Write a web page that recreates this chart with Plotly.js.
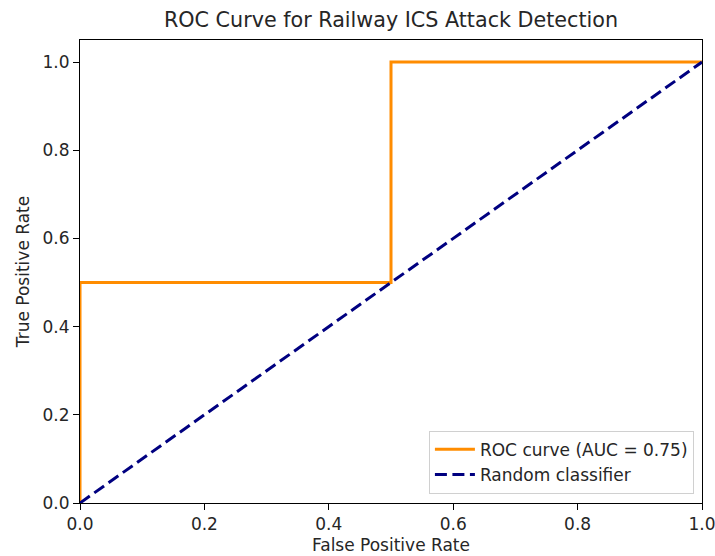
<!DOCTYPE html>
<html><head><meta charset="utf-8">
<script src="https://cdn.plot.ly/plotly-3.0.1.min.js"></script>
<style>body{margin:0;background:#fff}#c{width:715px;height:556px}</style>
</head><body><div id="c"></div>
<script>
const rocFpr = [0, 0, 0.5, 0.5, 1];
const rocTpr = [0, 0.5, 0.5, 1, 1];
const randFpr = [0, 1];
const randTpr = [0, 1];
const aucLabel = 'ROC curve (AUC = 0.75)';
const randLabel = 'Random classifier';
const tickVals = [0, 0.2, 0.4, 0.6, 0.8, 1.0];
const tickText = ['0.0', '0.2', '0.4', '0.6', '0.8', '1.0'];

const font = {family: 'DejaVu Sans, sans-serif', color: '#262626', size: 17};
const traces = [
  {x: rocFpr, y: rocTpr, mode: 'lines', name: aucLabel, line: {color: 'darkorange', width: 3}},
  {x: randFpr, y: randTpr, mode: 'lines', name: randLabel, line: {color: 'navy', width: 3, dash: '12px,5.5px'}}
];
const axisCommon = {
  showgrid: false, zeroline: false, showline: true, linecolor: '#000', linewidth: 1, mirror: true,
  ticks: 'outside', ticklen: 6, tickwidth: 1, tickcolor: '#000',
  tickvals: tickVals, ticktext: tickText, tickfont: font, ticklabeloverflow: 'allow'
};
const layout = {
  width: 715, height: 556,
  margin: {l: 80, r: 13, t: 40, b: 53},
  paper_bgcolor: '#fff', plot_bgcolor: '#fff',
  font: font,
  title: {text: 'ROC Curve for Railway ICS Attack Detection', font: {family: font.family, size: 20.7, color: '#262626'}, xref: 'paper', x: 0.5, xanchor: 'center', y: 1 - 20/556, yanchor: 'middle'},
  xaxis: Object.assign({}, axisCommon, {range: [0, 1], title: {text: 'False Positive Rate', font: font, standoff: 5}}),
  yaxis: Object.assign({}, axisCommon, {range: [0, 1.05], title: {text: 'True Positive Rate', font: font, standoff: 8}}),
  showlegend: true,
  legend: {x: 0.987, y: 0.02, xanchor: 'right', yanchor: 'bottom', bgcolor: 'rgba(255,255,255,0.8)', bordercolor: '#d0d0d0', borderwidth: 1, font: font, tracegroupgap: 0, itemwidth: 40}
};
Plotly.newPlot('c', traces, layout, {displayModeBar: false, staticPlot: true});
</script></body></html>
